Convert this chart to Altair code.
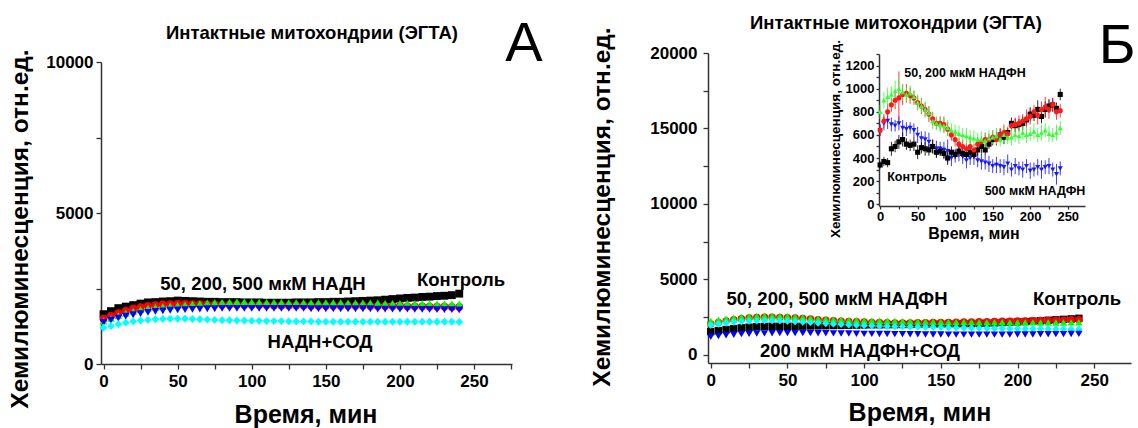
import altair as alt
import pandas as pd

FONT = "Liberation Sans"
TIME = list(range(0, 245, 5))

# ---------------- Panel A (НАДН) ----------------
A_NAMES = ["Контроль", "50 мкМ НАДН", "200 мкМ НАДН", "500 мкМ НАДН", "НАДН+СОД"]
A_COLORS = ["#000000", "#ff0000", "#00ff00", "#0000ff", "#00ffff"]
A_SHAPES = ["square", "circle", "triangle-up", "triangle-down", "diamond"]
A_CTRL = [1650, 1750, 1850, 1900, 1950, 2000, 2040, 2050, 2070, 2080,
          2100, 2090, 2080, 2070, 2060, 2060, 2050, 2050, 2050, 2040,
          2040, 2040, 2030, 2030, 2030, 2030, 2040, 2040, 2040, 2050,
          2050, 2060, 2060, 2070, 2080, 2090, 2100, 2110, 2130, 2150,
          2170, 2190, 2200, 2220, 2230, 2250, 2260, 2280, 2330]
A_50 = [1500, 1590, 1680, 1760, 1830, 1880, 1920, 1950, 1970, 1980,
        1990, 1990, 1980, 1980, 1970, 1970, 1960, 1960, 1960, 1950,
        1950, 1950, 1950, 1940, 1940, 1940, 1940, 1940, 1930, 1930,
        1930, 1930, 1930, 1930, 1930, 1930, 1920, 1920, 1920, 1920,
        1920, 1910, 1910, 1910, 1900, 1900, 1900, 1890, 1890]
A_200 = [1420, 1510, 1600, 1680, 1740, 1800, 1850, 1880, 1900, 1920,
         1940, 1960, 1980, 2000, 2020, 2030, 2040, 2050, 2060, 2060,
         2050, 2050, 2040, 2040, 2040, 2030, 2030, 2030, 2030, 2030,
         2030, 2030, 2030, 2020, 2020, 2020, 2020, 2020, 2010, 2010,
         2010, 2010, 2000, 2000, 2000, 1990, 1990, 1990, 1990]
A_500 = [1380, 1450, 1520, 1580, 1630, 1670, 1710, 1740, 1760, 1780,
         1790, 1800, 1810, 1820, 1830, 1830, 1840, 1840, 1840, 1840,
         1840, 1840, 1840, 1840, 1840, 1840, 1840, 1840, 1830, 1830,
         1830, 1830, 1830, 1830, 1830, 1830, 1830, 1820, 1820, 1820,
         1820, 1820, 1810, 1810, 1810, 1800, 1800, 1800, 1790]
A_SOD = [1200, 1260, 1320, 1370, 1410, 1440, 1460, 1480, 1490, 1500,
         1500, 1500, 1490, 1480, 1470, 1460, 1450, 1450, 1440, 1440,
         1430, 1430, 1420, 1420, 1420, 1410, 1410, 1410, 1410, 1400,
         1400, 1400, 1400, 1400, 1400, 1400, 1400, 1400, 1400, 1400,
         1400, 1400, 1400, 1400, 1400, 1400, 1400, 1400, 1390]

# ---------------- Panel B (НАДФН) ----------------
B_NAMES = ["Контроль", "50 мкМ НАДФН", "200 мкМ НАДФН", "500 мкМ НАДФН", "200 мкМ НАДФН+СОД"]
B_COLORS = ["#000000", "#ff0000", "#00ff00", "#00ffff", "#0000ff"]
B_SHAPES = ["square", "circle", "triangle-up", "diamond", "triangle-down"]
B_CTRL = [1550, 1620, 1690, 1750, 1800, 1840, 1870, 1890, 1900, 1900,
          1900, 1900, 1910, 1920, 1930, 1940, 1950, 1960, 1970, 1980,
          1990, 2000, 2000, 2010, 2010, 2020, 2020, 2030, 2030, 2040,
          2040, 2050, 2060, 2070, 2080, 2100, 2110, 2130, 2150, 2170,
          2190, 2210, 2240, 2270, 2300, 2330, 2360, 2390, 2430]
B_50 = [2050, 2150, 2250, 2330, 2400, 2450, 2480, 2500, 2500, 2490,
        2470, 2450, 2420, 2380, 2340, 2300, 2270, 2240, 2220, 2200,
        2180, 2160, 2150, 2140, 2130, 2130, 2130, 2140, 2140, 2150,
        2150, 2160, 2170, 2180, 2190, 2200, 2210, 2220, 2230, 2240,
        2250, 2260, 2270, 2280, 2290, 2300, 2310, 2330, 2340]
B_200 = [2250, 2330, 2410, 2470, 2520, 2560, 2590, 2600, 2600, 2590,
         2570, 2540, 2500, 2460, 2420, 2390, 2360, 2340, 2320, 2300,
         2290, 2280, 2270, 2260, 2250, 2240, 2230, 2220, 2210, 2200,
         2200, 2190, 2190, 2180, 2180, 2170, 2170, 2170, 2170, 2160,
         2160, 2160, 2160, 2150, 2150, 2150, 2150, 2160, 2170]
B_500 = [1980, 2050, 2120, 2180, 2220, 2250, 2270, 2280, 2280, 2270,
         2250, 2220, 2190, 2160, 2120, 2090, 2060, 2030, 2000, 1980,
         1960, 1940, 1920, 1900, 1890, 1880, 1870, 1860, 1850, 1840,
         1830, 1820, 1810, 1800, 1790, 1780, 1770, 1760, 1750, 1750,
         1740, 1740, 1730, 1730, 1720, 1720, 1720, 1710, 1710]
B_SOD = [1200, 1250, 1300, 1340, 1380, 1400, 1420, 1430, 1440, 1450,
         1450, 1450, 1450, 1450, 1440, 1440, 1430, 1420, 1420, 1410,
         1400, 1400, 1390, 1390, 1380, 1380, 1370, 1370, 1360, 1360,
         1360, 1350, 1350, 1350, 1350, 1350, 1350, 1350, 1350, 1350,
         1360, 1360, 1360, 1370, 1370, 1380, 1380, 1390, 1400]

# ---------------- Inset (НАДФН, zoomed) ----------------
I_NAMES = ["500 мкМ НАДФН", "Контроль", "50 мкМ НАДФН", "200 мкМ НАДФН"]
I_COLORS = ["#1a1aff", "#000000", "#ff1a1a", "#33ff33"]
I_SHAPES = ["triangle-down", "square", "circle", "triangle-up"]
I_500 = [640, 700, 720, 690, 680, 700, 660, 650, 660, 640,
         600, 570, 560, 540, 500, 480, 480, 470, 460, 400,
         420, 440, 410, 380, 400, 410, 380, 370, 360, 350,
         330, 340, 330, 320, 350, 300, 330, 310, 300, 330,
         290, 300, 320, 300, 320, 330, 300, 260, 310]
I_CTRL = [340, 370, 360, 480, 500, 540, 560, 520, 510, 520,
          450, 490, 480, 470, 500, 450, 460, 440, 400, 450,
          430, 460, 440, 430, 450, 430, 470, 500, 470, 520,
          560, 570, 600, 580, 620, 700, 680, 690, 700, 730,
          780, 770, 820, 760, 820, 850, 860, 830, 950]
I_50 = [640, 720, 800, 860, 900, 920, 950, 960, 940, 920,
        880, 850, 820, 780, 740, 700, 700, 690, 650, 600,
        560, 520, 500, 480, 500, 470, 520, 540, 560, 560,
        580, 560, 600, 620, 610, 680, 690, 700, 720, 740,
        760, 800, 770, 820, 840, 820, 860, 800, 810]
I_200 = [800, 900, 930, 950, 980, 1000, 970, 950, 960, 930,
         880, 850, 820, 790, 720, 700, 690, 680, 660, 640,
         630, 610, 600, 590, 580, 570, 560, 560, 550, 570,
         580, 590, 560, 600, 580, 580, 600, 590, 620, 600,
         610, 630, 600, 620, 640, 610, 600, 620, 660]
I_500_ERR = [50, 60, 70, 60, 50, 60, 70, 60, 50, 60,
             70, 60, 70, 80, 60, 70, 60, 70, 100, 70,
             60, 70, 60, 70, 60, 70, 60, 70, 60, 70,
             60, 70, 60, 70, 80, 60, 70, 60, 70, 60,
             70, 60, 70, 80, 60, 70, 60, 90, 60]
I_CTRL_ERR = [30, 40, 40, 60, 50, 60, 60, 50, 50, 60,
              60, 50, 60, 50, 60, 50, 40, 50, 60, 50,
              40, 50, 40, 50, 60, 40, 50, 60, 50, 40,
              50, 60, 50, 60, 40, 50, 60, 50, 60, 40,
              60, 50, 80, 60, 70, 60, 60, 50, 50]
I_50_ERR = [50, 60, 70, 60, 80, 230, 90, 80, 70, 60,
            60, 70, 60, 70, 60, 50, 60, 70, 60, 50,
            60, 50, 60, 50, 60, 50, 60, 50, 60, 50,
            60, 50, 60, 70, 60, 50, 60, 70, 60, 80,
            70, 60, 80, 70, 90, 80, 60, 70, 60]
I_200_ERR = [60, 70, 80, 70, 90, 100, 70, 60, 70, 60,
             70, 60, 70, 60, 70, 60, 70, 60, 70, 60,
             60, 70, 60, 70, 60, 70, 60, 70, 60, 70,
             60, 70, 60, 70, 60, 70, 60, 70, 60, 70,
             60, 70, 60, 70, 60, 70, 60, 70, 60]

for arr in [A_CTRL, A_50, A_200, A_500, A_SOD, B_CTRL, B_50, B_200, B_500, B_SOD,
            I_500, I_CTRL, I_50, I_200, I_500_ERR, I_CTRL_ERR, I_50_ERR, I_200_ERR]:
    assert len(arr) == len(TIME), len(arr)


def long_df(names, series, errs=None):
    rows = []
    for i, (name, vals) in enumerate(zip(names, series)):
        for j, (t, v) in enumerate(zip(TIME, vals)):
            r = {"t": t, "v": v, "s": name, "k": i}
            if errs is not None:
                r["lo"] = v - errs[i][j]
                r["hi"] = v + errs[i][j]
            rows.append(r)
    return pd.DataFrame(rows)


dfA = long_df(A_NAMES, [A_CTRL, A_50, A_200, A_500, A_SOD])
dfB = long_df(B_NAMES, [B_CTRL, B_50, B_200, B_500, B_SOD])
dfI = long_df(I_NAMES, [I_500, I_CTRL, I_50, I_200],
              [I_500_ERR, I_CTRL_ERR, I_50_ERR, I_200_ERR])

H = 428


def scale(domain, rng):
    return alt.Scale(domain=domain, range=rng, nice=False, zero=False)


def axis(orient, offset, values, every, size, pad, tick):
    return alt.Axis(orient=orient, offset=offset, values=values, format="d",
                    labelExpr=f"datum.value % {every} == 0 ? datum.label : ''",
                    title=None, grid=False, tickSize=tick, tickWidth=1.3,
                    domainWidth=1.5, domainColor="#333333", tickColor="#333333",
                    labelFont=FONT, labelFontWeight="bold", labelFontSize=size,
                    labelColor="black", labelPadding=pad, labelFlush=False,
                    labelOverlap=False)


def points(df, names, colors, shapes, xs, ys, size, xax, yax):
    return alt.Chart(df).mark_point(filled=True, size=size, opacity=1).encode(
        x=alt.X("t:Q", scale=xs, axis=xax),
        y=alt.Y("v:Q", scale=ys, axis=yax),
        color=alt.Color("s:N", scale=alt.Scale(domain=names, range=colors), legend=None),
        shape=alt.Shape("s:N", scale=alt.Scale(domain=names, range=shapes), legend=None),
        order=alt.Order("k:Q"),
    )


def txt(s, x, y, size, weight="bold", angle=0):
    return alt.Chart(pd.DataFrame({"label": [s]})).mark_text(
        font=FONT, fontSize=size, fontWeight=weight, angle=angle,
        align="center", baseline="middle", color="black",
    ).encode(x=alt.value(x), y=alt.value(y), text="label:N")


# scales (pixel ranges)
xA = scale([-1.7, 275.6], [101, 512])
yA = scale([0, 10000], [364, 62])
xB = scale([-1.8, 274], [708, 1131])
yB = scale([-530, 20000], [363, 53])
xI = scale([-1.5, 273], [879, 1085])
yI = scale([-15, 1300], [206, 54])

XT = list(range(0, 276, 25))

layerA = points(dfA, A_NAMES, A_COLORS, A_SHAPES, xA, yA, 62,
                axis("bottom", 364 - H, XT, 50, 17, 4, 5),
                axis("left", -101, [0, 2500, 5000, 7500, 10000], 5000, 17, 3, 5))
layerB = points(dfB, B_NAMES, B_COLORS, B_SHAPES, xB, yB, 55,
                axis("bottom", 363 - H, XT, 50, 17, 4, 5),
                axis("left", -708, list(range(0, 20001, 2500)), 5000, 17, 6, 5))

errI = alt.Chart(dfI).mark_rule(strokeWidth=1, opacity=0.85).encode(
    x=alt.X("t:Q", scale=xI, axis=None),
    y=alt.Y("lo:Q", scale=yI, axis=None),
    y2="hi:Q",
    color=alt.Color("s:N", scale=alt.Scale(domain=I_NAMES, range=I_COLORS), legend=None),
)
layerI = points(dfI, I_NAMES, I_COLORS, I_SHAPES, xI, yI, 26,
                axis("bottom", 206 - H, XT, 50, 13, 1, 3),
                axis("left", -879, list(range(0, 1301, 100)), 200, 13, 2, 3))

texts = [
    txt("Интактные митохондрии (ЭГТА)", 312, 33, 18.5),
    txt("А", 524, 44, 56, weight="normal"),
    txt("Хемилюминесценция, отн.ед.", 21, 229, 24.5, angle=270),
    txt("Время, мин", 306, 415, 25),
    txt("50, 200, 500 мкМ НАДН", 263, 284, 18.5),
    txt("Контроль", 461, 280, 18.5),
    txt("НАДН+СОД", 320, 342, 18.5),
    txt("Интактные митохондрии (ЭГТА)", 896, 23, 18.5),
    txt("Б", 1117, 46, 56, weight="normal"),
    txt("Хемилюминесценция, отн.ед.", 603, 207, 24.5, angle=270),
    txt("Время, мин", 920, 413, 25),
    txt("50, 200, 500 мкМ НАДФН", 837, 299, 18.5),
    txt("Контроль", 1077, 299, 18.5),
    txt("200 мкМ НАДФН+СОД", 860, 351, 18.5),
    txt("Хемилюминесценция, отн.ед.", 836, 139, 13.5, angle=270),
    txt("Время, мин", 974, 234, 16),
    txt("50, 200 мкМ НАДФН", 965, 73, 12.5),
    txt("Контроль", 917, 177, 12.5),
    txt("500 мкМ НАДФН", 1035, 191, 12.5),
]

chart = alt.layer(layerA, layerB, errI, layerI, *texts).resolve_scale(
    x="independent", y="independent", color="independent", shape="independent"
).resolve_axis(x="independent", y="independent").properties(
    width=1138, height=H, padding=0,
    autosize=alt.AutoSizeParams(type="none"),
    background="white",
).configure_view(stroke=None)

chart.save("out.html", embed_options={"renderer": "svg", "actions": False})
